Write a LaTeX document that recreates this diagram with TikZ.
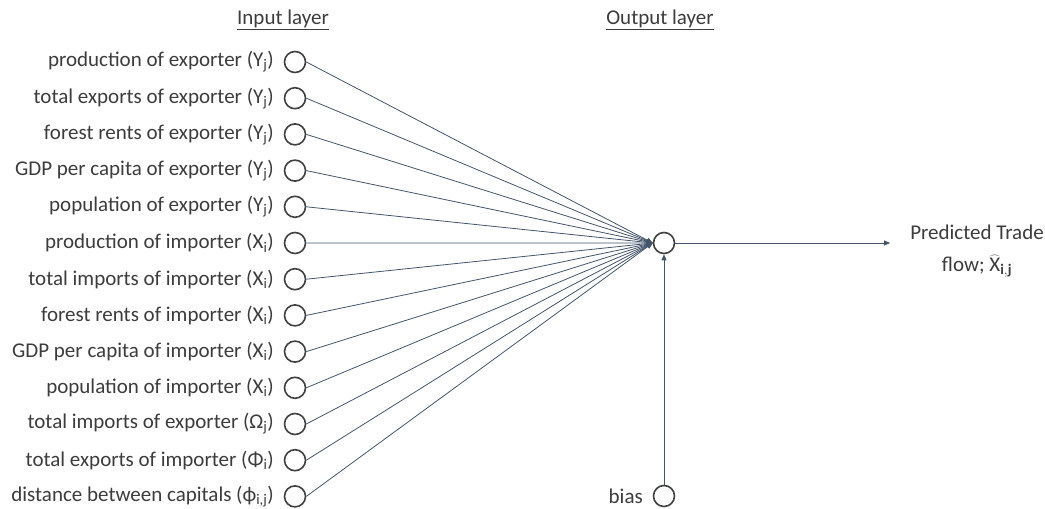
\documentclass[tikz,border=0pt]{standalone}
\usepackage{fontspec}
\setmainfont{Carlito}
\usetikzlibrary{arrows.meta}
\definecolor{txt}{HTML}{3C3C3C}
\definecolor{edge}{HTML}{44546A}
\definecolor{ring}{HTML}{404040}
\tikzset{
  neuron/.style={circle,draw=ring,line width=1.6bp,minimum size=21bp,inner sep=0pt},
  feat/.style={anchor=east,inner sep=0pt,text=txt,font=\fontsize{21bp}{25bp}\selectfont},
  head/.style={inner sep=0pt,text=txt,font=\fontsize{21bp}{25bp}\selectfont},
  conn/.style={draw=edge,line width=0.8bp,-{Triangle[length=6bp,width=5bp]}}
}
\newcommand{\sbs}[1]{\textsubscript{#1}}
\begin{document}
\begin{tikzpicture}[x=1bp,y=-1bp]
\useasboundingbox (0,0) rectangle (1045,509);
\node[head] (hin) at (283,20) {\underline{Input layer}};
\node[head] (hout) at (660,20) {\underline{Output layer}};
\foreach \i/\t in {
 1/{production of exporter (Y\sbs{j})},
 2/{total exports of exporter (Y\sbs{j})},
 3/{forest rents of exporter (Y\sbs{j})},
 4/{GDP per capita of exporter (Y\sbs{j})},
 5/{population of exporter (Y\sbs{j})},
 6/{production of importer (X\sbs{i})},
 7/{total imports of importer (X\sbs{i})},
 8/{forest rents of importer (X\sbs{i})},
 9/{GDP per capita of importer (X\sbs{i})},
 10/{population of importer (X\sbs{i})},
 11/{total imports of exporter (Ω\sbs{j})},
 12/{total exports of importer (Φ\sbs{i})},
 13/{distance between capitals (ϕ\sbs{i,j})}}{
  \node[neuron] (in\i) at (295,{62+36.2*(\i-1)}) {};
  \node[feat] (lab\i) at (274,{62+36.2*(\i-1)}) {\t};
}
\node[neuron] (out) at (664,243) {};
\node[neuron] (bias) at (664,496) {};
\node[feat] (biaslab) at (643,496) {bias};
\foreach \i in {1,...,13}{
  \draw[conn] (in\i.east) -- (out.west);
}
\draw[conn] (bias.north) -- (out.south);
\coordinate (end) at (890,243);
\draw[conn] (out.east) -- (end);
\node[head] (pred1) at (977,232) {Predicted Trade};
\node[head] (pred2) at (977,266) {flow; $\widehat{\mathrm{X}}_{\mathbf{i,j}}$};
\end{tikzpicture}
\end{document}
